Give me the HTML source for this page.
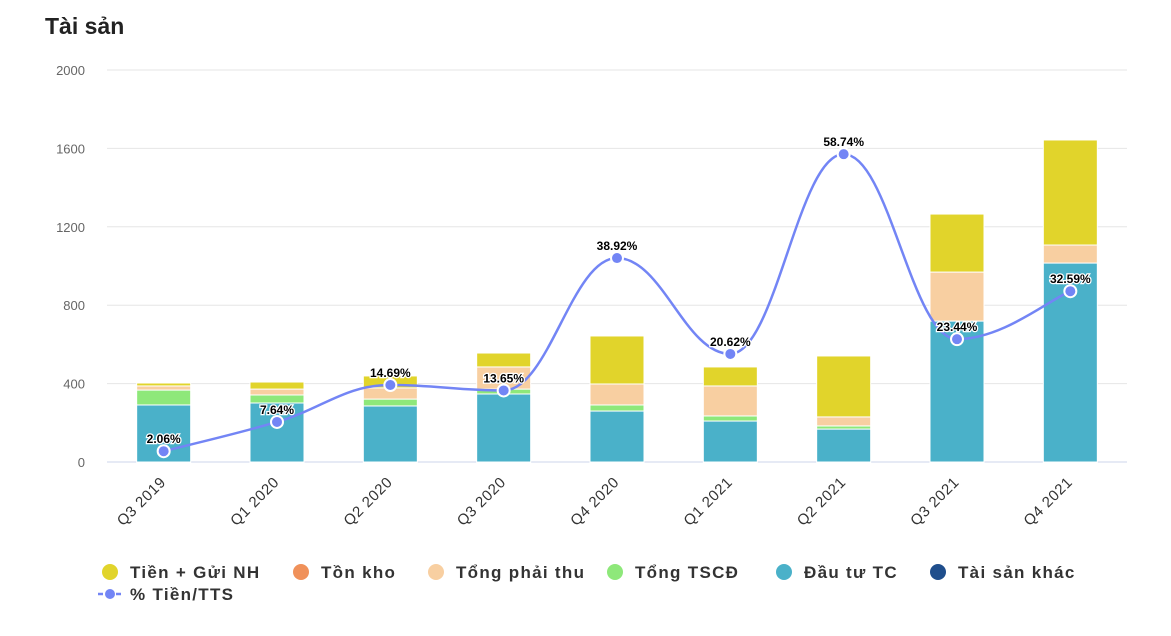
<!DOCTYPE html>
<html><head><meta charset="utf-8"><style>
body{margin:0;background:#fff;width:1171px;height:631px;overflow:hidden;font-family:"Liberation Sans",sans-serif}
</style></head><body>
<svg id="chart" width="1171" height="631" xmlns="http://www.w3.org/2000/svg">
<text x="45" y="34" font-size="23" font-weight="bold" fill="#222" font-family="Liberation Sans, sans-serif">Tài sản</text>
<g id="grid"></g><g id="bars"></g><g id="line"></g><g id="labels"></g><g id="legend"></g>
</svg>
<script>
const categories=["Q3 2019","Q1 2020","Q2 2020","Q3 2020","Q4 2020","Q1 2021","Q2 2021","Q3 2021","Q4 2021"];
const dauTuTC=[291,301,286,347,260,209,168,719,1015];
const tongTSCD=[76,41,35,25,31,26,16,0,0];
const tongPhaiThu=[21,30,57,113,107,153,46,250,92];
const tonKho=[0,0,0,0,0,0,0,0,0];
const tien=[15,36,61,71,245,97,311,296,536];
const taiSanKhac=[0,0,0,0,0,0,0,0,0];
const pctTien=[2.06,7.64,14.69,13.65,38.92,20.62,58.74,23.44,32.59];
const yTicks=[0,400,800,1200,1600,2000];

const NS="http://www.w3.org/2000/svg";
const L=107,R=1127,T=70,B=462,yMax=2000,pMax=74.8;
const bw=(R-L)/categories.length;
const x=i=>L+bw*(i+0.5);
const y=v=>B-(v/yMax)*(B-T);
const yp=v=>B-(v/pMax)*(B-T);
function mk(tag,attrs,parent){const e=document.createElementNS(NS,tag);for(const k in attrs)e.setAttribute(k,attrs[k]);parent.appendChild(e);return e;}
const grid=document.getElementById('grid');
yTicks.forEach(t=>{
 const ln=mk('line',{x1:L,x2:R,y1:y(t),y2:y(t),stroke:t===0?'#ccd6eb':'#e6e6e6','stroke-width':1},grid);
 
 
 const tx=mk('text',{x:85,y:y(t)+5,'text-anchor':'end','font-size':13,fill:'#666'},grid);
 tx.textContent=t;
 
 
});
const series=[[dauTuTC,'#4ab1c9','dau-tu-tc'],[tongTSCD,'#8ee87a','tong-tscd'],[tongPhaiThu,'#f8cfa1','tong-phai-thu'],[tonKho,'#f0915a','ton-kho'],[tien,'#e1d42b','tien-gui-nh'],[taiSanKhac,'#1f4e8c','tai-san-khac']];
const bars=document.getElementById('bars');
categories.forEach((c,i)=>{
 let acc=0;
 series.forEach(([arr,col,nm])=>{
  const v=arr[i]; if(v<=0){return;}
  const y0=y(acc),y1=y(acc+v);acc+=v;
  const r=mk('rect',{x:x(i)-27,y:y1,width:54,height:y0-y1,fill:col,stroke:'#fff','stroke-width':1},bars);
  
  
 });
 const lb=mk('text',{transform:`translate(${x(i)+3},${483}) rotate(-45)`,'text-anchor':'end','font-size':15,'letter-spacing':0.6,fill:'#333'},bars);
 lb.textContent=c;
 
 
});
const pts=pctTien.map((v,i)=>[x(i),yp(v)]);
let d=`M${pts[0][0]},${pts[0][1]}`;
for(let i=0;i<pts.length-1;i++){
 const p0=pts[Math.max(0,i-1)],p1=pts[i],p2=pts[i+1],p3=pts[Math.min(pts.length-1,i+2)];
 const t=0.2;
 let c1y=p1[1]+(p2[1]-p0[1])*t, c2y=p2[1]-(p3[1]-p1[1])*t;
 const isExt=(k)=>k>0&&k<pts.length-1&&((pts[k][1]-pts[k-1][1])*(pts[k][1]-pts[k+1][1])>0);
 if(isExt(i))c1y=p1[1]; if(isExt(i+1))c2y=p2[1];
 d+=` C${p1[0]+(p2[0]-p0[0])*t},${c1y} ${p2[0]-(p3[0]-p1[0])*t},${c2y} ${p2[0]},${p2[1]}`;
}
const lineG=document.getElementById('line');
const path=mk('path',{d:d,fill:'none',stroke:'#7385f5','stroke-width':2.5},lineG);


pts.forEach((p,i)=>{
 const c=mk('circle',{cx:p[0],cy:p[1],r:6,fill:'#7385f5',stroke:'#fff','stroke-width':2},lineG);
 
 
 const t=mk('text',{x:p[0],y:p[1]-8,'text-anchor':'middle','font-size':12,'font-weight':'bold',fill:'#000',stroke:'#fff','stroke-width':2.5,'paint-order':'stroke'},lineG);
 t.textContent=pctTien[i].toFixed(2)+'%';
 
 
});
const lg=document.getElementById('legend');
const items=[['Tiền + Gửi NH','#e1d42b',110],['Tồn kho','#f0915a',301],['Tổng phải thu','#f8cfa1',436],['Tổng TSCĐ','#8ee87a',615],['Đầu tư TC','#4ab1c9',784],['Tài sản khác','#1f4e8c',938]];
items.forEach(([n,c,cx])=>{
 const g=mk('g',{},lg);
 
 
 mk('circle',{cx:cx,cy:572,r:8,fill:c},g);
 const t=mk('text',{x:cx+20,y:578,'font-size':17,'font-weight':'bold','letter-spacing':1.3,fill:'#333'},g);
 t.textContent=n;
});
const g2=mk('g',{},lg);


mk('line',{x1:98,x2:122,y1:594,y2:594,stroke:'#7385f5','stroke-width':2.5,'stroke-dasharray':'5,4'},g2);
mk('circle',{cx:110,cy:594,r:5,fill:'#7385f5'},g2);
const t2=mk('text',{x:130,y:600,'font-size':17,'font-weight':'bold','letter-spacing':1.3,fill:'#333'},g2);
t2.textContent='% Tiền/TTS';
</script>
</body></html>
